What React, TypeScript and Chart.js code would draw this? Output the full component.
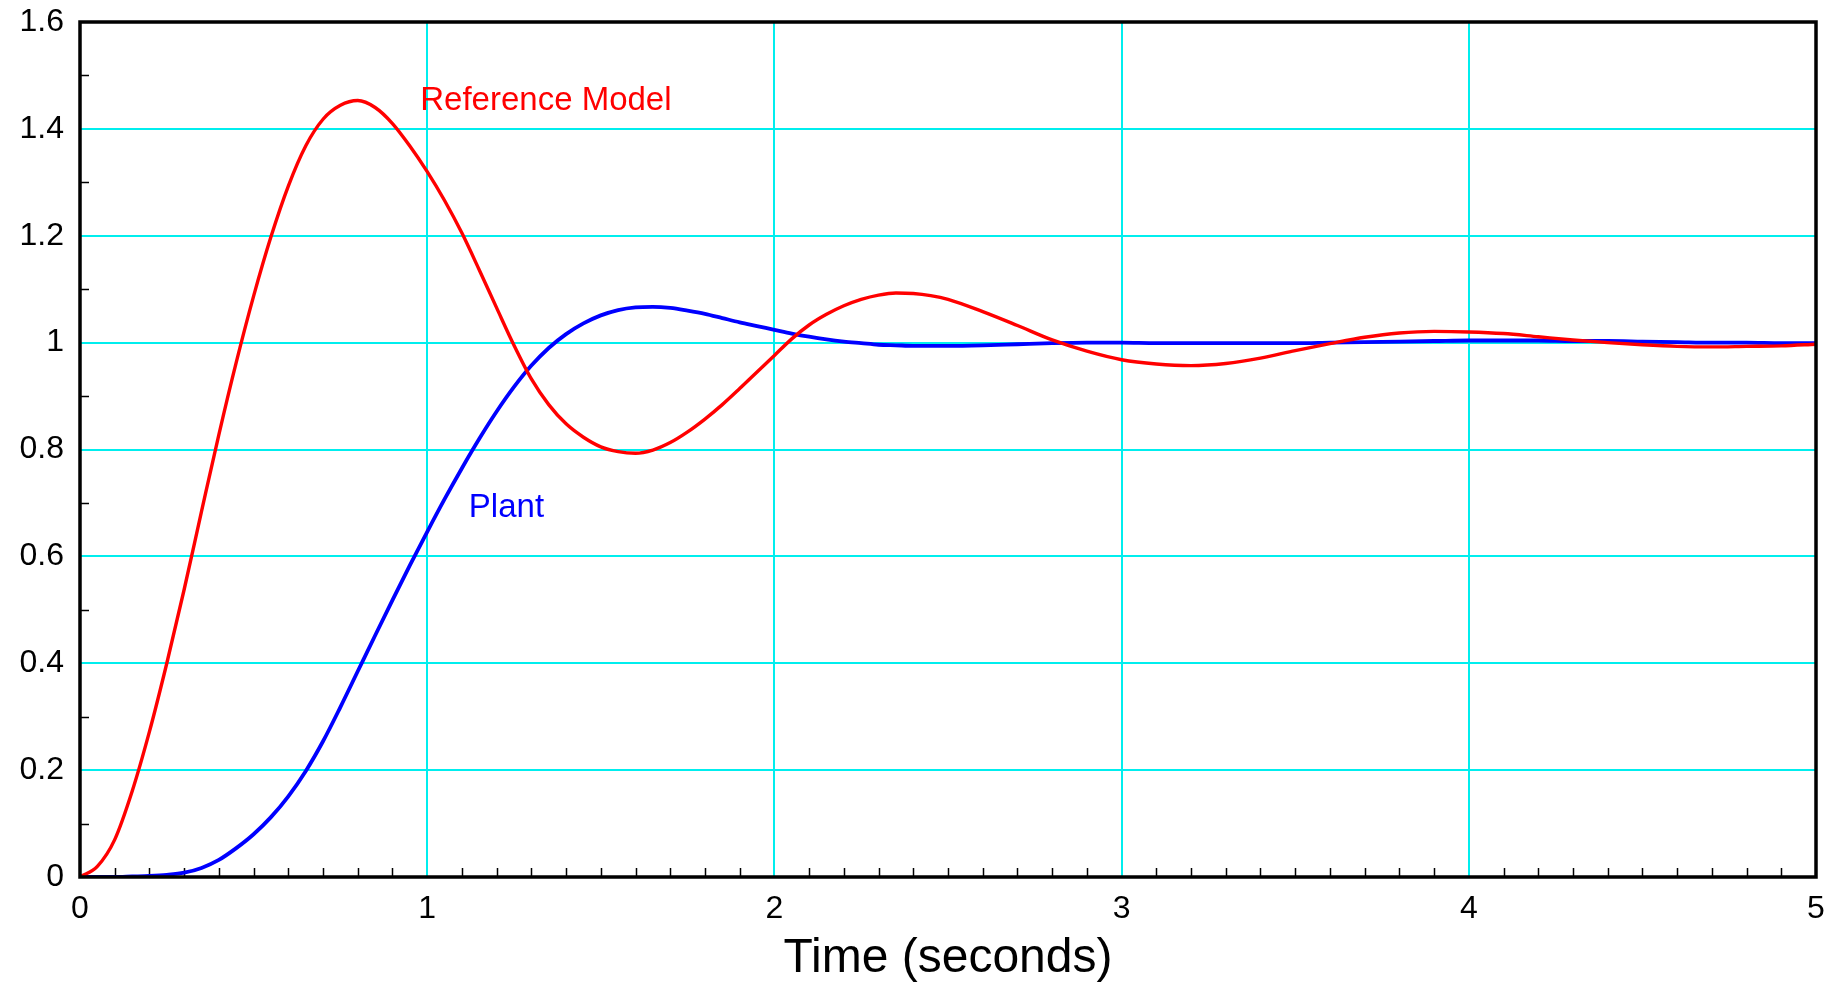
import React, { useEffect, useRef } from "react";
import { Chart, registerables } from "chart.js";

Chart.register(...registerables);

// Simulation time (s)
const TIME = [
  0, 0.05, 0.1, 0.15, 0.2, 0.25, 0.3, 0.35, 0.4, 0.45, 0.5,
  0.55, 0.6, 0.65, 0.7, 0.75, 0.8, 0.85, 0.9, 0.95, 1.0,
  1.05, 1.1, 1.15, 1.2, 1.25, 1.3, 1.35, 1.4, 1.45, 1.5,
  1.55, 1.6, 1.65, 1.7, 1.75, 1.8, 1.85, 1.9, 1.95, 2.0,
  2.05, 2.1, 2.15, 2.2, 2.25, 2.3, 2.35, 2.4, 2.45, 2.5,
  2.6, 2.7, 2.8, 2.9, 3.0, 3.1, 3.2, 3.3, 3.4, 3.5,
  3.6, 3.7, 3.8, 3.9, 4.0, 4.1, 4.2, 4.3, 4.4, 4.5,
  4.6, 4.7, 4.8, 4.9, 5.0,
];

// Reference model step response
const REFERENCE_MODEL = [
  0, 0.02, 0.07, 0.16, 0.272, 0.4, 0.538, 0.684, 0.828, 0.963, 1.087,
  1.198, 1.293, 1.368, 1.418, 1.444, 1.453, 1.44, 1.41, 1.368, 1.32,
  1.266, 1.205, 1.136, 1.065, 0.995, 0.932, 0.884, 0.848, 0.823, 0.805,
  0.796, 0.793, 0.799, 0.813, 0.833, 0.857, 0.884, 0.914, 0.945, 0.976,
  1.007, 1.033, 1.053, 1.069, 1.081, 1.089, 1.093, 1.092, 1.088, 1.081,
  1.058, 1.032, 1.005, 0.984, 0.968, 0.96, 0.957, 0.961, 0.971, 0.985,
  0.998, 1.01, 1.018, 1.021, 1.02, 1.017, 1.011, 1.005, 1.0, 0.996,
  0.993, 0.992, 0.993, 0.994, 0.997,
];

// Plant step response
const PLANT = [
  0, 0, 0, 0.001, 0.002, 0.004, 0.008, 0.017, 0.032, 0.054, 0.08,
  0.112, 0.151, 0.198, 0.254, 0.318, 0.385, 0.452, 0.518, 0.583, 0.646,
  0.707, 0.765, 0.82, 0.871, 0.917, 0.957, 0.99, 1.016, 1.036, 1.051,
  1.061, 1.066, 1.067, 1.065, 1.06, 1.054, 1.046, 1.038, 1.031, 1.024,
  1.017, 1.011, 1.006, 1.002, 0.999, 0.996, 0.995, 0.994, 0.994, 0.994,
  0.995, 0.997, 0.999, 1.0, 1.0, 0.999, 0.999, 0.999, 0.999, 0.999,
  1.0, 1.001, 1.002, 1.003, 1.004, 1.004, 1.004, 1.003, 1.003, 1.002,
  1.001, 1.0, 1.0, 0.999, 0.999,
];

// Axis ranges: minor tick step, labelled step
const X_RANGE = [0, 5];
const X_STEPS = [0.1, 1];
const Y_RANGE = [0, 1.6];
const Y_STEPS = [0.1, 0.2];

const X_TITLE = "Time (seconds)";

// In-plot curve labels, anchored in data units (time, response)
const CURVE_LABEL_TEXT = ["Reference Model", "Plant"];
const CURVE_LABEL_TIME = [0.98, 1.12];
const CURVE_LABEL_VALUE = [1.435, 0.674];

const RED = "#ff0000";
const BLUE = "#0000ff";
const GRID_CYAN = "#00eeee";
const FONT_FAMILY = "'Liberation Sans', Arial, Helvetica, sans-serif";

const isMultiple = (v: number, step: number) =>
  Math.abs(v / step - Math.round(v / step)) < 1e-6;

const fmt = (v: number) => String(Math.round(v * 10) / 10);

const framePlugin = {
  id: "frameAndMinorTicks",
  beforeDatasetsDraw(chart: any) {
    const { ctx, chartArea: a, scales } = chart;
    const xs = scales.x;
    const ys = scales.y;
    ctx.save();
    ctx.strokeStyle = "#000";
    ctx.lineWidth = 1.5;
    ctx.beginPath();
    for (const t of xs.ticks) {
      if (isMultiple(t.value, X_STEPS[1])) continue;
      const px = Math.round(xs.getPixelForValue(t.value)) + 0.5;
      ctx.moveTo(px, a.bottom);
      ctx.lineTo(px, a.bottom - 9);
    }
    for (const t of ys.ticks) {
      if (isMultiple(t.value, Y_STEPS[1])) continue;
      const py = Math.round(ys.getPixelForValue(t.value)) + 0.5;
      ctx.moveTo(a.left, py);
      ctx.lineTo(a.left + 9, py);
    }
    ctx.stroke();
    ctx.restore();
  },
  afterDatasetsDraw(chart: any) {
    const { ctx, chartArea: a, scales } = chart;
    ctx.save();
    ctx.strokeStyle = "#000";
    ctx.lineWidth = 3.5;
    ctx.strokeRect(a.left, a.top, a.right - a.left, a.bottom - a.top);

    ctx.font = `33px ${FONT_FAMILY}`;
    ctx.textAlign = "left";
    ctx.textBaseline = "alphabetic";
    const colors = [RED, BLUE];
    CURVE_LABEL_TEXT.forEach((text, i) => {
      ctx.fillStyle = colors[i];
      ctx.fillText(
        text,
        scales.x.getPixelForValue(CURVE_LABEL_TIME[i]),
        scales.y.getPixelForValue(CURVE_LABEL_VALUE[i])
      );
    });
    ctx.restore();
  },
};

export default function App() {
  const canvasRef = useRef<HTMLCanvasElement | null>(null);

  useEffect(() => {
    if (!canvasRef.current) return;
    const chart = new Chart(canvasRef.current, {
      type: "line",
      data: {
        datasets: [
          {
            label: "Reference Model",
            data: TIME.map((t, i) => ({ x: t, y: REFERENCE_MODEL[i] })),
            borderColor: RED,
            borderWidth: 3.4,
            pointRadius: 0,
            cubicInterpolationMode: "monotone",
            fill: false,
          },
          {
            label: "Plant",
            data: TIME.map((t, i) => ({ x: t, y: PLANT[i] })),
            borderColor: BLUE,
            borderWidth: 3.8,
            pointRadius: 0,
            cubicInterpolationMode: "monotone",
            fill: false,
          },
        ],
      },
      options: {
        responsive: false,
        animation: false,
        events: [],
        layout: { padding: { left: 0, right: 28, top: 22, bottom: 0 } },
        plugins: {
          legend: { display: false },
          tooltip: { enabled: false },
        },
        scales: {
          x: {
            type: "linear",
            min: X_RANGE[0],
            max: X_RANGE[1],
            border: { display: false },
            grid: {
              drawTicks: false,
              lineWidth: 2,
              color: (c: any) =>
                c.tick && isMultiple(c.tick.value, X_STEPS[1])
                  ? GRID_CYAN
                  : "rgba(0,0,0,0)",
            },
            ticks: {
              stepSize: X_STEPS[0],
              autoSkip: false,
              maxRotation: 0,
              padding: 13,
              color: "#000",
              font: { family: FONT_FAMILY, size: 32 },
              callback: (v: any) =>
                isMultiple(Number(v), X_STEPS[1]) ? fmt(Number(v)) : "",
            },
            title: {
              display: true,
              text: X_TITLE,
              color: "#000",
              font: { family: FONT_FAMILY, size: 48 },
              padding: { top: 0, bottom: -3 },
            },
            afterFit: (s: any) => {
              s.height = 108;
              s.paddingLeft = 0;
              s.paddingRight = 0;
            },
          },
          y: {
            type: "linear",
            min: Y_RANGE[0],
            max: Y_RANGE[1],
            border: { display: false },
            grid: {
              drawTicks: false,
              lineWidth: 2,
              color: (c: any) =>
                c.tick && isMultiple(c.tick.value, Y_STEPS[1])
                  ? GRID_CYAN
                  : "rgba(0,0,0,0)",
            },
            ticks: {
              stepSize: Y_STEPS[0],
              autoSkip: false,
              padding: 16,
              color: "#000",
              font: { family: FONT_FAMILY, size: 32 },
              callback: (v: any) =>
                isMultiple(Number(v), Y_STEPS[1]) ? fmt(Number(v)) : "",
            },
            afterFit: (s: any) => {
              s.width = 80;
              s.paddingTop = 0;
              s.paddingBottom = 0;
            },
          },
        },
      },
      plugins: [framePlugin],
    });
    return () => chart.destroy();
  }, []);

  return (
    <div
      style={{
        position: "fixed",
        left: 0,
        top: 0,
        width: 1844,
        height: 985,
        background: "#fff",
      }}
    >
      <canvas ref={canvasRef} width={1844} height={985} />
    </div>
  );
}
